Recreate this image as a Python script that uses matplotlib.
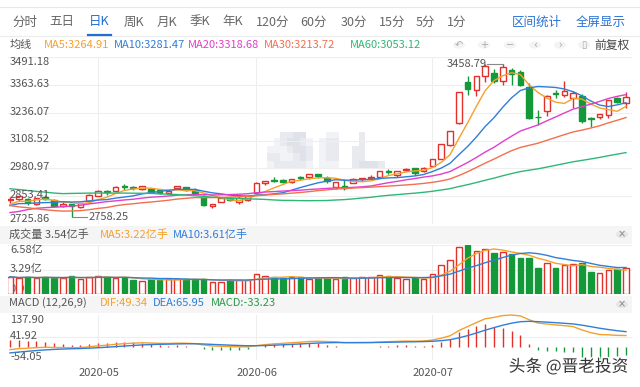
import numpy as np
import pandas as pd
import matplotlib
matplotlib.use('Agg')
import matplotlib.pyplot as plt
from matplotlib.patches import Rectangle, Circle
from matplotlib.colors import ListedColormap
from matplotlib import patheffects as pe
import matplotlib.transforms as mtransforms

plt.rcParams['font.family'] = ['Noto Sans CJK SC', 'DejaVu Sans']

# ---------------- data ----------------
dates = ['2020-04-17', '2020-04-20', '2020-04-21', '2020-04-22', '2020-04-23', '2020-04-24',
         '2020-04-27', '2020-04-28', '2020-04-29', '2020-04-30',
         '2020-05-06', '2020-05-07', '2020-05-08', '2020-05-11', '2020-05-12', '2020-05-13',
         '2020-05-14', '2020-05-15', '2020-05-18', '2020-05-19', '2020-05-20', '2020-05-21',
         '2020-05-22', '2020-05-25', '2020-05-26', '2020-05-27', '2020-05-28', '2020-05-29',
         '2020-06-01', '2020-06-02', '2020-06-03', '2020-06-04', '2020-06-05', '2020-06-08',
         '2020-06-09', '2020-06-10', '2020-06-11', '2020-06-12', '2020-06-15', '2020-06-16',
         '2020-06-17', '2020-06-18', '2020-06-19', '2020-06-22', '2020-06-23', '2020-06-24',
         '2020-06-29', '2020-06-30',
         '2020-07-01', '2020-07-02', '2020-07-03', '2020-07-06', '2020-07-07', '2020-07-08',
         '2020-07-09', '2020-07-10', '2020-07-13', '2020-07-14', '2020-07-15', '2020-07-16',
         '2020-07-17', '2020-07-20', '2020-07-21', '2020-07-22', '2020-07-23', '2020-07-24',
         '2020-07-27', '2020-07-28', '2020-07-29', '2020-07-30', '2020-07-31']

opens = [2833.8, 2838.6, 2841.6, 2817.4, 2847.7, 2837.5, 2808.0, 2817.5, 2805.9, 2831.6,
         2855.5, 2876.3, 2878.9, 2899.9, 2896.0, 2886.3, 2885.3, 2879.9, 2866.4, 2890.0,
         2893.3, 2883.5, 2853.7, 2809.8, 2827.7, 2845.4, 2826.1, 2838.1,
         2867.4, 2912.1, 2928.0, 2925.7, 2920.3, 2941.0, 2940.0, 2955.4, 2937.3, 2893.7,
         2902.2, 2912.6, 2931.6, 2935.6, 2939.4, 2969.5, 2949.2, 2973.9, 2980.3, 2967.9,
         2991.2, 3023.6, 3090.0, 3187.0, 3378.0, 3340.0, 3404.7, 3418.0, 3381.0, 3431.0,
         3424.0, 3355.0, 3215.0, 3246.0, 3325.0, 3316.0, 3303.0, 3314.0, 3212.0, 3218.0,
         3225.0, 3302.0, 3279.0]
highs = [2848.1, 2853.5, 2847.3, 2844.2, 2857.0, 2838.8, 2827.3, 2818.7, 2822.8, 2865.4,
         2880.6, 2880.0, 2898.5, 2907.9, 2898.8, 2898.1, 2886.4, 2883.4, 2883.4, 2899.7,
         2897.5, 2891.3, 2856.9, 2819.7, 2847.3, 2847.9, 2852.7, 2852.4,
         2918.6, 2924.9, 2940.2, 2932.3, 2934.2, 2943.9, 2956.1, 2957.0, 2943.6, 2919.7,
         2932.2, 2936.5, 2938.1, 2949.2, 2967.6, 2976.6, 2970.6, 2984.2, 2983.2, 2988.2,
         3026.0, 3090.6, 3152.8, 3332.9, 3405.0, 3406.3, 3456.9, 3437.7, 3458.79, 3440.0,
         3430.0, 3373.3, 3248.0, 3316.0, 3340.0, 3381.0, 3335.0, 3320.0, 3218.0, 3232.0,
         3294.6, 3307.0, 3333.0]
lows = [2823.8, 2831.4, 2814.3, 2813.9, 2834.6, 2806.4, 2805.1, 2758.25, 2798.6, 2831.1,
        2853.0, 2860.8, 2874.9, 2882.3, 2880.4, 2880.0, 2866.8, 2863.8, 2861.5, 2885.5,
        2878.6, 2865.7, 2810.5, 2798.5, 2827.5, 2832.6, 2817.6, 2829.6,
        2866.9, 2905.6, 2917.3, 2914.6, 2914.7, 2927.0, 2929.9, 2935.4, 2914.9, 2886.0,
        2882.2, 2912.0, 2924.3, 2929.3, 2937.6, 2954.7, 2942.1, 2967.0, 2950.9, 2964.3,
        2985.2, 3022.7, 3084.5, 3184.0, 3318.9, 3310.2, 3378.9, 3370.0, 3361.6, 3363.0,
        3357.0, 3207.0, 3180.0, 3220.0, 3302.0, 3310.0, 3256.0, 3187.0, 3172.0, 3205.0,
        3212.0, 3280.0, 3256.0]
closes = [2838.49, 2852.55, 2827.01, 2843.98, 2838.50, 2808.53, 2815.49, 2810.02, 2822.44, 2860.08,
          2878.14, 2871.52, 2895.34, 2894.80, 2891.56, 2898.05, 2870.34, 2868.46, 2875.42, 2898.58,
          2883.74, 2867.92, 2813.77, 2817.97, 2846.55, 2836.80, 2846.22, 2852.35,
          2915.43, 2921.40, 2923.37, 2919.25, 2930.80, 2937.77, 2956.11, 2943.75, 2920.90, 2919.74,
          2890.03, 2931.75, 2935.87, 2939.32, 2967.63, 2965.27, 2970.62, 2979.55, 2961.52, 2984.67,
          3025.98, 3090.57, 3152.81, 3332.88, 3345.34, 3403.44, 3450.59, 3383.32, 3443.29, 3414.62,
          3361.30, 3210.10, 3214.13, 3314.15, 3320.90, 3333.16, 3325.11, 3196.77, 3205.23, 3227.96,
          3294.55, 3286.82, 3310.01]
volumes = [2.36, 2.14, 2.36, 2.14, 2.36, 2.23, 2.14, 2.50, 2.01, 2.30,
           2.50, 2.36, 2.14, 2.23, 1.92, 1.79, 2.01, 1.92, 2.01, 2.01,
           2.01, 2.01, 2.00, 1.70, 1.70, 1.92, 1.92, 1.92,
           2.68, 2.46, 2.28, 2.15, 2.28, 2.28, 2.00, 2.15, 2.15, 2.00,
           2.28, 2.15, 2.28, 2.37, 2.55, 2.46, 2.15, 2.05, 2.15, 2.05,
           2.73, 3.93, 4.60, 6.39, 6.58, 5.86, 6.08, 5.50, 5.64, 5.40,
           4.83, 4.83, 3.49, 4.16, 3.49, 4.00, 4.05, 4.20, 3.00, 2.90,
           3.30, 3.35, 3.54]

# closes before the visible window (2020-01-02 .. 2020-04-16), used for MA / MACD history
prior_closes = [3085.20, 3083.79, 3083.41, 3104.80, 3066.89, 3094.88, 3092.29, 3115.57, 3106.82,
                3090.04, 3074.08, 3075.50, 3095.79, 3052.14, 3060.75, 2976.53,
                2746.61, 2783.29, 2818.09, 2866.51, 2875.96, 2890.49, 2901.67, 2926.90, 2906.07,
                2917.01, 2983.62, 2984.97, 2975.40, 3030.15, 3039.67, 3031.23, 3013.05, 2987.93,
                2991.33, 2880.30,
                2970.93, 2992.90, 3011.67, 3071.68, 3034.51, 2943.29, 2996.76, 2968.52, 2923.49,
                2887.43, 2789.25, 2779.64, 2728.76, 2702.13, 2745.62, 2660.17, 2722.44, 2781.59,
                2764.91, 2772.20, 2747.21, 2750.30,
                2734.52, 2780.64, 2763.99, 2820.76, 2815.37, 2825.90, 2796.63, 2783.05, 2827.28,
                2811.17, 2819.94]

month_labels = ['2020-05', '2020-06', '2020-07']
price_ticks = [2725.86, 2853.41, 2980.97, 3108.52, 3236.07, 3363.63, 3491.18]
vol_ticks = [0.00, 3.29, 6.58]
vol_tick_labels = ['0.00', '3.29亿', '6.58亿']
macd_ticks = [-54.05, 41.92, 137.90]

ma_periods = [5, 10, 20, 30, 60]
ma_colors = ['#f5a02c', '#2f7ed8', '#e13fcb', '#f36f4d', '#2fb875']
ma_header = ['MA5:3264.91', 'MA10:3281.47', 'MA20:3318.68', 'MA30:3213.72', 'MA60:3053.12']

RED = '#e2312a'
GREEN = '#13993a'
GRID = '#eeeeee'
LABEL = '#555555'

# ---------------- derived series ----------------
n = len(closes)
idx = np.arange(n)
all_close = pd.Series(prior_closes + closes)
n_prior = len(prior_closes)
mas = [all_close.rolling(p).mean().values[n_prior:] for p in ma_periods]
ema12 = all_close.ewm(span=12, adjust=False).mean()
ema26 = all_close.ewm(span=26, adjust=False).mean()
dif_all = ema12 - ema26
dea_all = dif_all.ewm(span=9, adjust=False).mean()
dif = dif_all.values[n_prior:]
dea = dea_all.values[n_prior:]
hist = 2 * (dif - dea)
vol_s = pd.Series(volumes)
vma5 = vol_s.rolling(5, min_periods=1).mean().values
vma10 = vol_s.rolling(10, min_periods=1).mean().values

# ---------------- figure ----------------
W, H = 640, 387
fig = plt.figure(figsize=(W / 100, H / 100), dpi=100)
fig.patch.set_facecolor('white')


def fx(x):
    return x / W


def fy(y):
    return 1 - y / H


def px_axes(left, top, right, bottom):
    a = fig.add_axes([fx(left), fy(bottom), (right - left) / W, (bottom - top) / H])
    a.set_facecolor('none')
    for s in a.spines.values():
        s.set_visible(False)
    a.set_xticks([])
    a.set_yticks([])
    return a


X_LEFT, X_RIGHT = 8, 632
STEP, X0 = 8.8, 10.0
xlim = ((X_LEFT - X0) / STEP, (X_RIGHT - X0) / STEP)

# header decorations
fig.add_artist(plt.Line2D([0, 1], [fy(7), fy(7)], color='#e8e8e8', lw=0.8))
fig.add_artist(plt.Line2D([0, 1], [fy(35.5), fy(35.5)], color='#ececec', lw=0.8))
fig.add_artist(plt.Line2D([fx(88), fx(111)], [fy(34.5), fy(34.5)], color='#1e6fd0', lw=1.6))

tabs = [('分时', 25), ('五日', 62), ('日K', 99), ('周K', 133.5), ('月K', 167), ('季K', 199.5),
        ('年K', 233), ('120分', 273), ('60分', 313.5), ('30分', 353.5), ('15分', 392.5),
        ('5分', 425), ('1分', 456.5)]
for t, cx in tabs:
    fig.text(fx(cx), fy(22), t, ha='center', va='center', fontsize=9,
             color='#1e6fd0' if t == '日K' else '#666666')
fig.text(fx(537), fy(22), '区间统计', ha='center', va='center', fontsize=9, color='#2a72d4')
fig.text(fx(600.5), fy(22), '全屏显示', ha='center', va='center', fontsize=9, color='#2a72d4')

fig.text(fx(10), fy(45), '均线', ha='left', va='center', fontsize=8, color=LABEL)
ma_x = [44, 114, 188, 264, 350]
for s, c, x in zip(ma_header, ma_colors, ma_x):
    fig.text(fx(x), fy(45), s, ha='left', va='center', fontsize=8, color=c)

icons = [('↶', 459), ('+', 484), ('−', 510), ('‹', 535), ('›', 560), ('▯', 584)]
for g, cx in icons:
    fig.add_artist(Circle((fx(cx), fy(45)), 6 / W, transform=fig.transFigure,
                          facecolor='#f3f3f3', edgecolor='none'))
    fig.text(fx(cx), fy(45), g, ha='center', va='center', fontsize=7, color='#aaaaaa',
             family=['DejaVu Sans'])
fig.text(fx(612), fy(45), '前复权', ha='center', va='center', fontsize=8.5, color='#444444')

# label bands
for y0, y1 in [(226, 244), (296, 313)]:
    fig.add_artist(Rectangle((0, fy(y1)), fx(X_RIGHT), (y1 - y0) / H, transform=fig.transFigure,
                             facecolor='#f5f5f5', edgecolor='none', zorder=0))
for cy in [234.5, 304.5]:
    fig.add_artist(Circle((fx(622), fy(cy)), 6 / W, transform=fig.transFigure,
                          facecolor='#e6e6e6', edgecolor='none'))
    fig.text(fx(622), fy(cy), '×', ha='center', va='center', fontsize=7, color='#888888',
             family=['DejaVu Sans'])

fig.text(fx(9), fy(234.5), '成交量 3.54亿手', ha='left', va='center', fontsize=8, color=LABEL)
fig.text(fx(100), fy(234.5), 'MA5:3.22亿手', ha='left', va='center', fontsize=8, color=ma_colors[0])
fig.text(fx(173), fy(234.5), 'MA10:3.61亿手', ha='left', va='center', fontsize=8, color=ma_colors[1])

fig.text(fx(9), fy(302.5), 'MACD (12,26,9)', ha='left', va='center', fontsize=8, color=LABEL)
fig.text(fx(100), fy(302.5), 'DIF:49.34', ha='left', va='center', fontsize=8, color=ma_colors[0])
fig.text(fx(153), fy(302.5), 'DEA:65.95', ha='left', va='center', fontsize=8, color=ma_colors[1])
fig.text(fx(211), fy(302.5), 'MACD:-33.23', ha='left', va='center', fontsize=8, color='#2a9a4a')

# faint pixel-mosaic watermark behind the price panel
wm = px_axes(267, 132, 385, 168)
wm_pattern = np.array([
    [0, 0, 2, 2, 3, 3, 0, 0, 0, 1, 1, 0, 0, 0, 2, 0, 0, 0],
    [0, 1, 2, 3, 3, 2, 1, 0, 1, 2, 2, 0, 0, 0, 2, 0, 0, 0],
    [1, 1, 1, 2, 3, 3, 2, 0, 1, 2, 2, 0, 0, 2, 2, 0, 0, 0],
    [2, 2, 1, 1, 2, 3, 2, 0, 1, 2, 2, 0, 0, 2, 2, 0, 0, 0],
    [1, 2, 2, 2, 2, 2, 1, 0, 1, 1, 1, 0, 0, 2, 3, 3, 3, 2]])
wm.imshow(wm_pattern, cmap=ListedColormap(['#ffffff', '#f2f3f6', '#e8eaef', '#dfe2e9']),
          vmin=0, vmax=3, aspect='auto', interpolation='nearest')
wm.axis('off')

# ---------------- panels ----------------
ax = px_axes(X_LEFT, 57, X_RIGHT, 224)
axv = px_axes(X_LEFT, 245.3, X_RIGHT, 294.3)
axm = px_axes(X_LEFT, 315, X_RIGHT, 359.5)
for a in (ax, axv, axm):
    a.set_xlim(*xlim)
ax.set_ylim(price_ticks[0], price_ticks[-1])
axv.set_ylim(vol_ticks[0], vol_ticks[-1])
axm.set_ylim(macd_ticks[0], macd_ticks[-1])

month_idx = [next(i for i, d in enumerate(dates) if d.startswith(m)) for m in month_labels]
for a in (ax, axv, axm):
    for mi in month_idx:
        a.axvline(mi, color=GRID, lw=0.8, zorder=0)
for v in price_ticks:
    ax.axhline(v, color=GRID, lw=0.8, zorder=0)
for v in vol_ticks[1:]:
    axv.axhline(v, color=GRID, lw=0.8, zorder=0)
for v in macd_ticks[1:2]:
    axm.axhline(v, color=GRID, lw=0.8, zorder=0)


def ylab(a, val, text, va, dy=0.0, z=1):
    tr = mtransforms.blended_transform_factory(fig.transFigure, a.transData)
    tr = mtransforms.offset_copy(tr, fig=fig, x=0, y=dy * 0.72, units='points')
    a.text(fx(10), val, text, transform=tr, ha='left', va=va, fontsize=8, color=LABEL, zorder=z)


for k, v in enumerate(price_ticks):
    va = 'bottom' if k == 0 else ('top' if k == len(price_ticks) - 1 else 'center')
    dy = 1 if va == 'center' else 0
    ylab(ax, v, f'{v:.2f}', va, dy, z=6)
ylab(axv, vol_ticks[2], vol_tick_labels[2], 'top')
ylab(axv, vol_ticks[1], vol_tick_labels[1], 'center', 1)
ylab(axv, vol_ticks[0], vol_tick_labels[0], 'bottom', 0, z=0.5)
ylab(axm, macd_ticks[2], f'{macd_ticks[2]:.2f}', 'top')
ylab(axm, macd_ticks[1], f'{macd_ticks[1]:.2f}', 'center', 1)
ylab(axm, macd_ticks[0], f'{macd_ticks[0]:.2f}', 'center', 2)

# candles
BW = 0.62
for i in idx:
    o, h, l, c = opens[i], highs[i], lows[i], closes[i]
    up = c >= o
    col = RED if up else GREEN
    lo_b, hi_b = min(o, c), max(o, c)
    ax.vlines(i, hi_b, h, color=col, lw=1, zorder=3)
    ax.vlines(i, l, lo_b, color=col, lw=1, zorder=3)
    ax.add_patch(Rectangle((i - BW / 2, lo_b), BW, max(hi_b - lo_b, 0.5),
                           facecolor='white' if up else col, edgecolor=col, lw=1, zorder=3))

for m, c in zip(mas, ma_colors):
    ax.plot(idx, m, color=c, lw=1.0, zorder=4)

# max / min markers
imax = int(np.argmax(highs))
imin = int(np.argmin(lows))
ax.plot([imax - 1.8, imax], [highs[imax], highs[imax]], color='#888888', lw=0.8, zorder=5)
ax.text(imax - 1.85, highs[imax], f'{highs[imax]:.2f}', ha='right', va='center', fontsize=8,
        color=LABEL, zorder=5)
ax.plot([imin, imin + 1.8], [lows[imin], lows[imin]], color='#888888', lw=0.8, zorder=5)
ax.text(imin + 1.9, lows[imin], f'{lows[imin]:.2f}', ha='left', va='center', fontsize=8,
        color=LABEL, zorder=5)

# volume bars
for i in idx:
    up = closes[i] >= opens[i]
    col = RED if up else GREEN
    axv.add_patch(Rectangle((i - BW / 2, 0), BW, volumes[i], facecolor='white' if up else col,
                            edgecolor=col, lw=1, zorder=2))
axv.plot(idx, vma5, color=ma_colors[0], lw=1.0, zorder=4)
axv.plot(idx, vma10, color=ma_colors[1], lw=1.0, zorder=4)

# macd
axm.vlines(idx, 0, hist, colors=[RED if v >= 0 else GREEN for v in hist], lw=1, zorder=2)
axm.plot(idx, dif, color=ma_colors[0], lw=1.0, zorder=4, clip_on=False)
axm.plot(idx, dea, color=ma_colors[1], lw=1.0, zorder=4, clip_on=False)

# date labels
for m, mi in zip(month_labels, month_idx):
    fig.text(fx(X0 + STEP * mi + 1), fy(372.5), m, ha='center', va='center', fontsize=8, color=LABEL)

# watermark
fig.text(fx(628), fy(367), '头条 @晋老投资', ha='right', va='center', fontsize=12, color='#333333',
         path_effects=[pe.withStroke(linewidth=2, foreground='white')])

fig.savefig('out.png', dpi=100, facecolor='white')
